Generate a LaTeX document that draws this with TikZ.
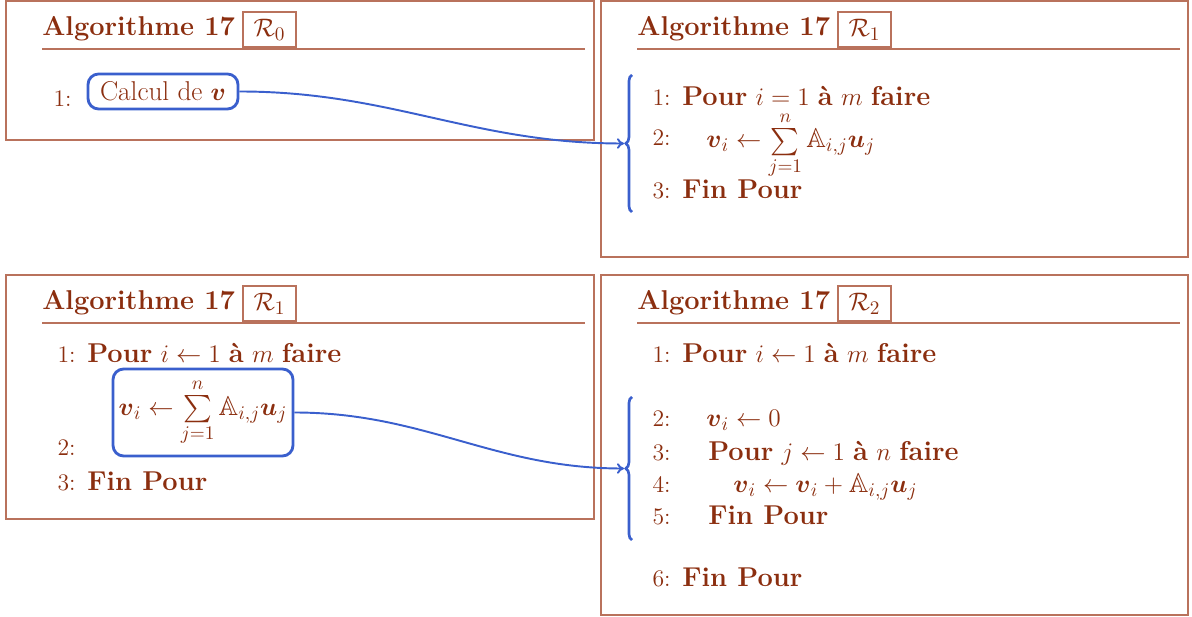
\documentclass[tikz,border=0pt]{standalone}
\usepackage{amsmath, amssymb}
\usepackage{tikz}
\usetikzlibrary{arrows.meta, positioning, decorations.pathreplacing, calc}
\definecolor{algBrown}{HTML}{8B2E0F}
\definecolor{frameBrown}{HTML}{B9725C}
\definecolor{linkBlue}{HTML}{3A5FCD}
\newcommand{\vv}{\boldsymbol{v}}
\newcommand{\uu}{\boldsymbol{u}}
\newcommand{\Amat}{\mathbb{A}}
\newcommand{\algsize}{\fontsize{15.5}{18}\selectfont}
\newcommand{\numsize}{\fontsize{13.5}{16}\selectfont}
\tikzset{
  algtext/.style={anchor=base west, inner sep=0pt, text=algBrown, font=\algsize},
  lnum/.style={anchor=base east, inner sep=0pt, text=algBrown, font=\numsize},
  rbox/.style={draw=frameBrown, line width=0.8pt, text=algBrown, minimum width=1.06cm,
    minimum height=0.7cm, inner sep=0pt, font=\algsize},
  hilite/.style={draw=linkBlue, line width=1.6pt, rounded corners=6pt, text=algBrown,
    font=\algsize, inner sep=2pt},
  link/.style={linkBlue, line width=1.1pt, -{To[length=4pt, width=6pt]}},
  bracket/.style={linkBlue, line width=1.5pt, decorate, decoration={brace, amplitude=3.5pt}}
}

\begin{document}
\begin{tikzpicture}[x=0.02cm, y=-0.02cm]
    \useasboundingbox (0,0) rectangle (1192,617);
    % the four algorithm frames
    \foreach \x/\y/\w/\h/\k [count=\i] in
      {6/1/588/139/0, 601/1/587/256/1, 6/275/588/244/1, 601/275/587/340/2} {
      \draw[frameBrown, line width=0.8pt] (\x,\y) rectangle ++(\w,\h);
      \node[algtext, font=\algsize\bfseries] (title\i) at (\x+36,\y+35) {Algorithme 17};
      \node[rbox] (R\i) at (\x+263.5,\y+28.5) {$\mathcal{R}_{\k}$};
      \draw[frameBrown, line width=0.8pt] (\x+36,\y+48) -- (\x+579,\y+48);
    }
    % R0
    \node[lnum] (a1n) at (72,107) {1:};
    \node[hilite, minimum width=3cm, minimum height=0.7cm] (calc) at (163,91.5) {Calcul de $\vv$};
    % R1 (top)
    \node[lnum] (b1n) at (671,106) {1:};
    \node[algtext] (b1) at (682,106) {\textbf{Pour} $i = 1$ \textbf{à} $m$ \textbf{faire}};
    \node[lnum] (b2n) at (671,146) {2:};
    \node[algtext] (b2) at (706,148) {$\vv_i \leftarrow \sum\limits_{j=1}^{n} \Amat_{i,j}\uu_j$};
    \node[lnum] (b3n) at (671,199) {3:};
    \node[algtext] (b3) at (682,199) {\textbf{Fin Pour}};
    \coordinate (tipB) at (624,143.5);
    \draw[bracket] (632,212) -- (632,75);
    % R1 (bottom)
    \node[lnum] (c1n) at (76,363) {1:};
    \node[algtext] (c1) at (87,363) {\textbf{Pour} $i \leftarrow 1$ \textbf{à} $m$ \textbf{faire}};
    \node[hilite, minimum width=3.6cm, minimum height=1.74cm] (sumbox) at (203,412.5)
      {$\vv_i \leftarrow \sum\limits_{j=1}^{n} \Amat_{i,j}\uu_j$};
    \node[lnum] (c2n) at (76,456) {2:};
    \node[lnum] (c3n) at (76,490) {3:};
    \node[algtext] (c3) at (87,490) {\textbf{Fin Pour}};
    % R2
    \node[lnum] (d1n) at (671,363) {1:};
    \node[algtext] (d1) at (682,363) {\textbf{Pour} $i \leftarrow 1$ \textbf{à} $m$ \textbf{faire}};
    \node[lnum] (d2n) at (671,427) {2:};
    \node[algtext] (d2) at (706,427) {$\vv_i \leftarrow 0$};
    \node[lnum] (d3n) at (671,460) {3:};
    \node[algtext] (d3) at (708,460) {\textbf{Pour} $j \leftarrow 1$ \textbf{à} $n$ \textbf{faire}};
    \node[lnum] (d4n) at (671,493) {4:};
    \node[algtext] (d4) at (733,493) {$\vv_i \leftarrow \vv_i + \Amat_{i,j}\uu_j$};
    \node[lnum] (d5n) at (671,524) {5:};
    \node[algtext] (d5) at (708,524) {\textbf{Fin Pour}};
    \node[lnum] (d6n) at (671,586) {6:};
    \node[algtext] (d6) at (682,586) {\textbf{Fin Pour}};
    \coordinate (tipD) at (624,468.5);
    \draw[bracket] (632,540) -- (632,397);
    % links
    \draw[link] (calc.east) to[out=0, in=180] (tipB);
    \draw[link] (sumbox.east) to[out=0, in=180] (tipD);
\end{tikzpicture}
\end{document}
